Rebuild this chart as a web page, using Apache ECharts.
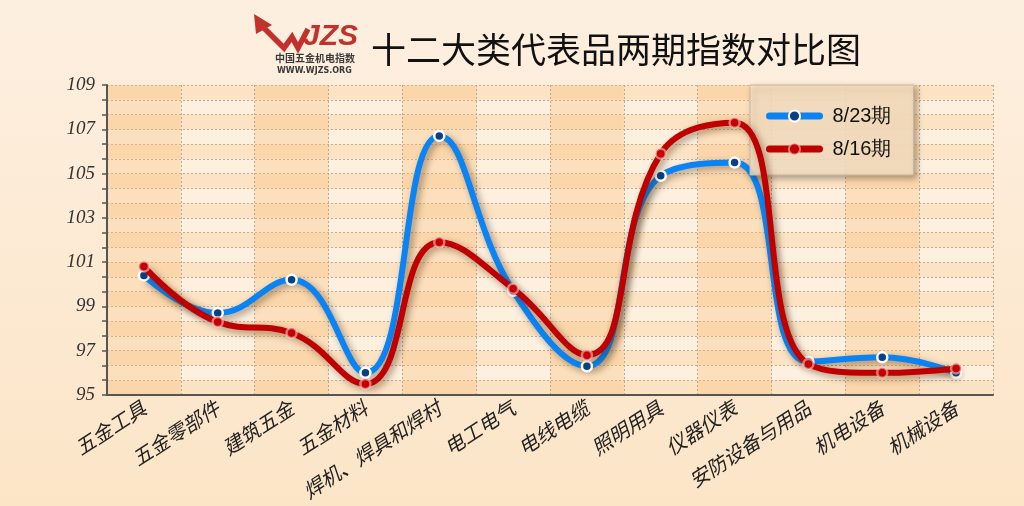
<!DOCTYPE html>
<html><head><meta charset="utf-8">
<script src="https://cdn.jsdelivr.net/npm/echarts@6/dist/echarts.min.js"></script>
<style>html,body{margin:0;padding:0;}#c{width:1024px;height:506px;}</style>
</head><body><div id="c"></div>
<script>
const categories = ['五金工具','五金零部件','建筑五金','五金材料','焊机、焊具和焊村','电工电气','电线电缆','照明用具','仪器仪表','安防设备与用品','机电设备','机械设备'];
const series0823 = [100.4, 98.7, 100.2, 96.0, 106.7, 99.7, 96.3, 104.9, 105.5, 96.5, 96.7, 96.0];
const series0816 = [100.8, 98.3, 97.8, 95.5, 101.9, 99.8, 96.8, 105.9, 107.3, 96.4, 96.0, 96.2];
const seriesNames = ['8/23期', '8/16期'];
const yMin = 95, yMax = 109, yStep = 2;
const titleText = '十二大类代表品两期指数对比图';

const chart = echarts.init(document.getElementById('c'), null, {renderer: 'canvas'});
const lineShadow = {shadowColor: 'rgba(60,30,0,0.45)', shadowBlur: 7, shadowOffsetX: 3, shadowOffsetY: 3};
chart.setOption({
  backgroundColor: {type: 'linear', x: 0, y: 0, x2: 0, y2: 1, colorStops: [{offset: 0, color: '#fdefe0'}, {offset: 1, color: '#fce5c7'}]},
  animation: false,
  title: {text: titleText, left: 366, top: 27, textStyle: {fontFamily: 'Noto Sans CJK SC', fontWeight: 'normal', fontSize: 35, color: '#111'}},
  graphic: [
    {type: 'polygon', shape: {points: [[254, 14], [256, 34], [272, 25]]}, style: {fill: '#c2312b'}},
    {type: 'polyline', shape: {points: [[262, 26], [284, 48], [292, 37], [298, 48], [308, 29]]}, style: {stroke: '#c2312b', lineWidth: 5.5, fill: null, lineJoin: 'miter'}},
    {type: 'text', left: 303, top: 22, style: {text: 'JZS', font: 'italic bold 30px "Liberation Sans"', fill: '#c2312b'}},
    {type: 'text', left: 275, top: 53, style: {text: '中国五金机电指数', font: 'bold 10px "Noto Sans CJK SC"', fill: '#3a3a3a'}},
    {type: 'text', left: 277, top: 67, style: {text: 'WWW.WJZS.ORG', font: 'bold 8px "DejaVu Sans"', fill: '#3a3a3a'}}
  ],
  legend: {
    data: seriesNames, orient: 'vertical', left: 750, top: 85,
    padding: [21, 22, 16, 16], itemGap: 13, itemWidth: 50, itemHeight: 14,
    backgroundColor: 'rgba(253,228,196,0.85)', borderColor: '#c8b8a4', borderWidth: 1,
    shadowColor: 'rgba(0,0,0,0.35)', shadowBlur: 6, shadowOffsetX: 3, shadowOffsetY: 3,
    lineStyle: {width: 7, cap: 'round'},
    textStyle: {fontFamily: 'Liberation Sans', fontSize: 20, color: '#111', padding: [0, 0, 0, 8]}
  },
  grid: {left: 107, right: 31, top: 85, bottom: 111, show: true, backgroundColor: '#fdf0df', borderWidth: 0},
  xAxis: {
    type: 'category', data: categories, boundaryGap: true,
    axisLine: {lineStyle: {color: '#555', width: 2}},
    axisTick: {alignWithLabel: true, length: 5, lineStyle: {color: '#555', width: 1.5}},
    axisLabel: {rotate: 33, interval: 0, margin: 11, fontFamily: 'Noto Sans CJK SC', fontStyle: 'italic', fontSize: 20, color: '#222'},
    splitLine: {show: true, lineStyle: {color: '#b8aa98', type: [2, 2], width: 1}},
    splitArea: {show: true, areaStyle: {color: ['rgba(249,190,120,0.34)', 'rgba(0,0,0,0)']}}
  },
  yAxis: [{
    type: 'value', min: yMin, max: yMax, interval: yStep,
    axisLine: {show: true, lineStyle: {color: '#555', width: 2}},
    axisTick: {show: true, length: 5, lineStyle: {color: '#555', width: 1.5}},
    minorTick: {show: true, splitNumber: 3, length: 5, lineStyle: {color: '#555', width: 1.5}},
    axisLabel: {margin: 12, fontFamily: 'Liberation Serif', fontStyle: 'italic', fontSize: 19, color: '#333'},
    splitLine: {show: true, lineStyle: {color: '#b8aa98', type: [2, 2], width: 1}},
    minorSplitLine: {show: true, lineStyle: {color: '#b8aa98', type: [2, 2], width: 1}}
  }, {
    type: 'value', min: 0, max: 21, interval: 1, position: 'right',
    axisLine: {show: false}, axisTick: {show: false}, axisLabel: {show: false}, splitLine: {show: false},
    splitArea: {show: true, areaStyle: {color: ['rgba(249,190,120,0.26)', 'rgba(0,0,0,0)']}}
  }],
  series: [{
    name: seriesNames[0], type: 'line', data: series0823, smooth: 0.45,
    symbol: 'circle', symbolSize: 10,
    itemStyle: {color: '#0b3f86', borderColor: '#ffffff', borderWidth: 2.5},
    lineStyle: Object.assign({color: '#0a84f5', width: 6}, lineShadow), z: 3
  }, {
    name: seriesNames[1], type: 'line', data: series0816, smooth: 0.45,
    symbol: 'circle', symbolSize: 10,
    itemStyle: {color: '#c40000', borderColor: 'rgba(255,210,210,0.55)', borderWidth: 2.5},
    lineStyle: Object.assign({color: '#c00000', width: 6}, lineShadow), z: 4
  }]
});
</script></body></html>
